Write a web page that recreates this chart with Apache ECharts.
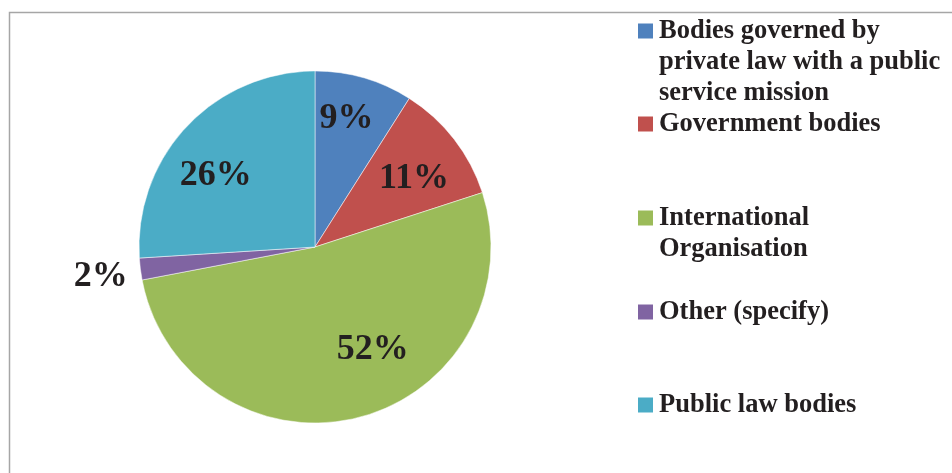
<!DOCTYPE html>
<html>
<head>
<meta charset="utf-8">
<title>pie</title>
<script src="https://cdn.jsdelivr.net/npm/echarts@6/dist/echarts.min.js"></script>
<style>
    html, body {margin: 0; padding: 0; background: #fff;}
    #main {width: 952px; height: 473px;}
</style>
</head>
<body>
<div id="main"></div>
<script>
    //数据
    var categories = [
        'Bodies governed by private law with a public service mission',
        'Government bodies',
        'International Organisation',
        'Other (specify)',
        'Public law bodies'
    ];
    var shares = [9, 11, 52, 2, 26];

    var colors = ['#4F81BD', '#C0504D', '#9BBB59', '#8064A2', '#4BACC6'];
    //标签偏移 (dx, dy)
    var labelShift = [[6, -41], [27, -13], [35, 15], [-124, 18], [-33, -9]];
    //图例位置 (图标与第一行对齐: 前面补空行)
    var legendTop = [-46.5, 108.5, 171.5, 296.5, 389.5];
    var legendBlank = [2, 0, 1, 0, 0];

    var serif = '"Liberation Serif", "Times New Roman", serif';

    var legends = categories.map(function (name, i) {
        return {
            data: [name],
            orient: 'vertical',
            left: 636,
            top: legendTop[i],
            padding: 0,
            itemWidth: 17,
            itemHeight: 17,
            itemGap: 0,
            icon: 'rect',
            selectedMode: false,
            formatter: function (n) {
                return new Array(legendBlank[i] + 1).join('\n') + n;
            },
            textStyle: {
                fontFamily: serif,
                fontWeight: 'bold',
                fontSize: 26.5,
                lineHeight: 31,
                color: '#231f20',
                width: 290,
                overflow: 'break'
            }
        };
    });

    var chart = echarts.init(document.getElementById('main'), null, {renderer: 'canvas'});
    chart.setOption({
        animation: false,
        color: colors,
        graphic: [{
            type: 'rect',
            shape: {x: 9.5, y: 12.5, width: 1000, height: 1000},
            style: {fill: 'none', stroke: '#a6a6a6', lineWidth: 1.5},
            z: -1
        }],
        legend: legends,
        series: [{
            name: 'share',
            type: 'pie',
            center: [315, 247],
            radius: 176,
            startAngle: 90,
            clockwise: true,
            avoidLabelOverlap: false,
            itemStyle: {borderWidth: 0.5, borderColor: '#fff'},
            label: {
                show: true,
                position: 'inside',
                formatter: '{c}%',
                fontFamily: serif,
                fontWeight: 'bold',
                fontSize: 36,
                color: '#231f20'
            },
            labelLine: {show: false},
            labelLayout: function (p) {
                var s = labelShift[p.dataIndex];
                return {dx: s[0], dy: s[1]};
            },
            emphasis: {disabled: true},
            data: categories.map(function (name, i) {
                return {name: name, value: shares[i]};
            })
        }]
    });
</script>
</body>
</html>
